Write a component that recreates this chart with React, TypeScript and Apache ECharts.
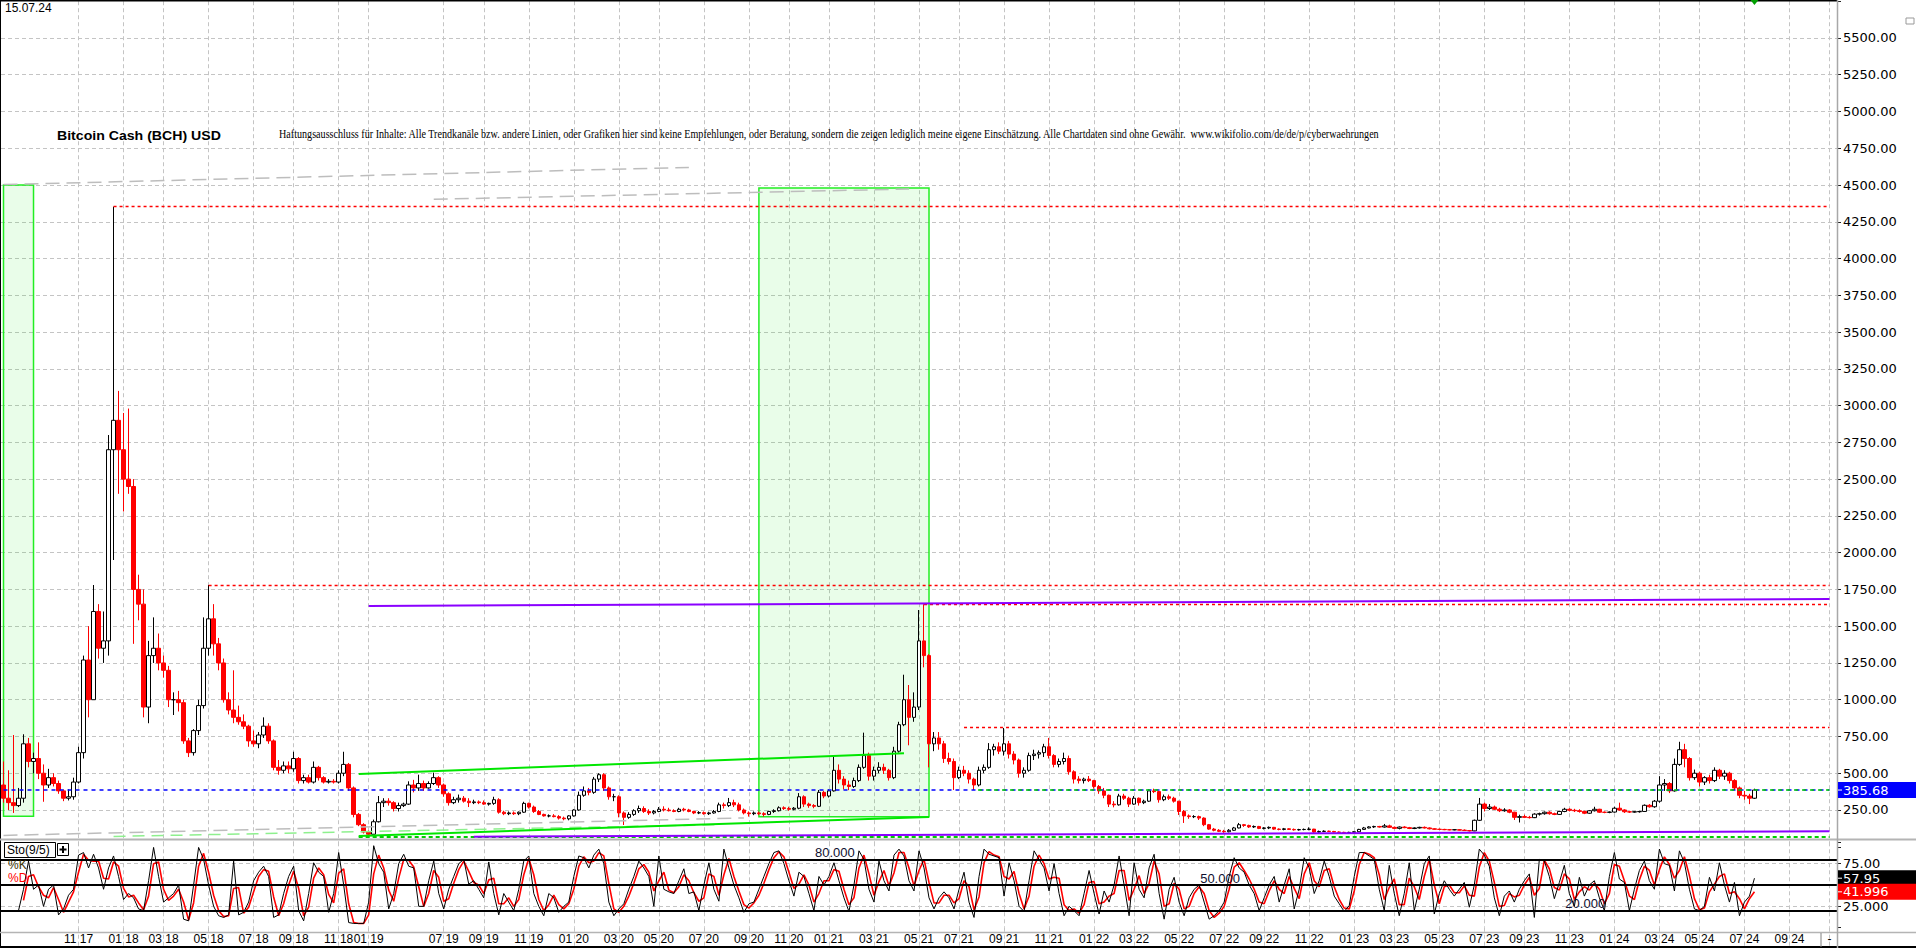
import React, { useEffect, useRef } from 'react';
import * as echarts from 'echarts';

const SLOT_COUNT = 367;

// x-axis labels (MM YY) and the weekly slot each sits on
const tickSlots = [15, 24, 32, 41, 50, 58, 67, 73, 88, 96, 105, 114, 123, 131, 140, 149, 157, 165, 174, 183, 191, 200, 209, 218, 226, 235, 244, 252, 261, 270, 278, 287, 296, 304, 313, 322, 331, 339, 348, 357, 365];
const tickLabels = ['11 17', '01 18', '03 18', '05 18', '07 18', '09 18', '11 18', '01 19', '07 19', '09 19', '11 19', '01 20', '03 20', '05 20', '07 20', '09 20', '11 20', '01 21', '03 21', '05 21', '07 21', '09 21', '11 21', '01 22', '03 22', '05 22', '07 22', '09 22', '11 22', '01 23', '03 23', '05 23', '07 23', '09 23', '11 23', '01 24', '03 24', '05 24', '07 24', '09 24', '-'];

// weekly candles [open, high, low, close]
const ohlc2017 = [
  [420, 580, 300, 330], [330, 520, 250, 300], [300, 760, 230, 280], [280, 400, 270, 330], [330, 765, 300, 700],
  [700, 740, 540, 580], [580, 640, 500, 600], [600, 710, 460, 500], [500, 560, 306, 420], [420, 530, 400, 470],
  [470, 500, 410, 430], [430, 450, 360, 380], [380, 390, 310, 330], [330, 390, 315, 340], [340, 470, 320, 440],
  [440, 680, 430, 640], [640, 1300, 600, 1270], [1270, 1500, 880, 1000], [1000, 1780, 1000, 1600], [1600, 1650, 1280, 1350],
  [1350, 1600, 1250, 1400], [1400, 2800, 1300, 2700], [2700, 4353, 1950, 2900], [2900, 3100, 2400, 2700],
];
const ohlc2018 = [
  [2700, 2950, 2280, 2500], [2500, 2980, 2400, 2450], [2450, 2500, 1380, 1750], [1750, 1850, 1540, 1650], [1650, 1750, 880, 950],
  [950, 1400, 840, 1300], [1300, 1560, 1250, 1350], [1350, 1450, 1200, 1250], [1250, 1300, 1150, 1200], [1200, 1230, 950, 1000],
  [1000, 1050, 896, 1000], [1000, 1060, 920, 980], [980, 1000, 700, 720], [720, 740, 610, 640], [640, 800, 620, 790],
  [790, 1000, 760, 960], [960, 1560, 940, 1350], [1350, 1780, 1300, 1550], [1550, 1650, 1300, 1380], [1380, 1420, 1200, 1250],
  [1250, 1280, 980, 1000], [1000, 1050, 900, 930], [930, 1200, 840, 880], [880, 960, 830, 850], [850, 900, 800, 820],
  [820, 830, 680, 720], [720, 790, 680, 700], [700, 780, 670, 760], [760, 880, 740, 820], [820, 840, 700, 720],
  [720, 730, 520, 540], [540, 590, 490, 520], [520, 580, 500, 550], [550, 580, 500, 530], [530, 646, 510, 600],
  [600, 610, 430, 450], [450, 490, 430, 470], [470, 490, 430, 440], [440, 580, 430, 540], [540, 550, 450, 470],
  [470, 480, 430, 440], [440, 460, 430, 445], [445, 460, 430, 440], [440, 520, 430, 500], [500, 646, 480, 560],
  [560, 570, 380, 400], [400, 410, 200, 220], [220, 230, 140, 150], [150, 160, 90, 100],
];
const ohlc2019 = [
  [100, 110, 77, 85], [85, 185, 85, 170], [170, 345, 165, 300], [300, 330, 270, 310], [310, 330, 280, 300],
  [300, 310, 240, 260], [260, 300, 240, 280], [280, 300, 270, 290], [290, 445, 285, 420], [420, 455, 370, 400],
  [400, 490, 380, 430], [430, 450, 380, 400], [400, 445, 395, 430], [430, 504, 420, 470], [470, 480, 400, 420],
  [420, 430, 340, 360], [360, 370, 280, 300], [300, 340, 290, 320], [320, 355, 300, 330], [330, 345, 300, 310],
  [310, 330, 270, 300], [300, 320, 290, 305], [305, 315, 290, 300], [300, 315, 285, 290], [290, 300, 280, 295],
  [295, 340, 285, 320], [320, 330, 225, 235], [235, 245, 215, 225], [225, 240, 215, 230], [230, 240, 216, 225],
  [225, 240, 215, 235], [235, 306, 230, 295], [295, 300, 260, 270], [270, 280, 230, 240], [240, 250, 215, 220],
  [220, 225, 205, 210], [210, 220, 200, 210], [210, 222, 200, 205], [205, 215, 185, 195], [195, 205, 180, 190],
  [190, 215, 180, 210],
];
const ohlc2020 = [
  [210, 255, 205, 250], [250, 375, 245, 350], [350, 410, 340, 380], [380, 400, 350, 370], [370, 475, 360, 460],
  [460, 500, 440, 490], [490, 500, 380, 400], [400, 410, 320, 340], [340, 360, 310, 340], [340, 350, 200, 230],
  [230, 240, 148, 200], [200, 235, 190, 220], [220, 255, 210, 245], [245, 280, 230, 260], [260, 275, 230, 240],
  [240, 255, 216, 230], [230, 250, 220, 240], [240, 270, 235, 255], [255, 275, 240, 250], [250, 265, 240, 245],
  [245, 255, 235, 240], [240, 265, 235, 255], [255, 265, 240, 250], [250, 258, 235, 240], [240, 245, 222, 230],
  [230, 242, 222, 232], [232, 240, 218, 225], [225, 238, 216, 230], [230, 250, 225, 240], [240, 300, 235, 285],
  [285, 300, 260, 280], [280, 332, 270, 300], [300, 320, 270, 285], [285, 300, 240, 250], [250, 260, 220, 230],
  [230, 240, 205, 225], [225, 240, 215, 230], [230, 240, 215, 225], [225, 235, 205, 220], [220, 245, 215, 240],
  [240, 255, 230, 245], [245, 275, 240, 265], [265, 275, 250, 260], [260, 272, 245, 255], [255, 270, 248, 262],
  [262, 365, 255, 340], [340, 350, 270, 290], [290, 300, 265, 280], [280, 290, 262, 275], [275, 386, 270, 370],
  [370, 380, 330, 345],
];
const ohlc2021 = [
  [345, 390, 335, 380], [380, 612, 375, 520], [520, 560, 430, 460], [460, 480, 390, 420], [420, 450, 385, 410],
  [410, 470, 400, 450], [450, 560, 440, 540], [540, 776, 530, 620], [620, 640, 450, 480], [480, 545, 450, 520],
  [520, 575, 500, 540], [540, 565, 495, 520], [520, 530, 450, 470], [470, 680, 460, 650], [650, 850, 640, 830],
  [830, 1170, 820, 1000], [1000, 1100, 690, 880], [880, 1050, 850, 950], [950, 1610, 930, 1400], [1400, 1650, 1220, 1300],
  [1300, 1310, 540, 700], [700, 780, 650, 740], [740, 780, 660, 700], [700, 720, 570, 600], [600, 640, 560, 580],
  [580, 600, 386, 470], [470, 545, 460, 520], [520, 550, 480, 500], [500, 520, 430, 460], [460, 470, 386, 420],
  [420, 545, 410, 520], [520, 560, 500, 540], [540, 705, 530, 660], [660, 700, 620, 680], [680, 710, 630, 650],
  [650, 808, 620, 700], [700, 720, 600, 630], [630, 650, 560, 590], [590, 600, 470, 500], [500, 540, 470, 520],
  [520, 640, 510, 620], [620, 660, 590, 630], [630, 655, 600, 640], [640, 700, 610, 680], [680, 740, 600, 620],
  [620, 630, 540, 560], [560, 600, 540, 580], [580, 640, 560, 600], [600, 620, 490, 510], [510, 520, 430, 460],
  [460, 480, 430, 450], [450, 470, 430, 460], [460, 481, 440, 450],
];
const ohlc2022 = [
  [450, 455, 395, 410], [410, 420, 360, 380], [380, 400, 330, 350], [350, 355, 270, 290], [290, 310, 268, 285],
  [285, 360, 280, 345], [345, 360, 318, 330], [330, 340, 270, 290], [290, 345, 285, 330], [330, 335, 280, 300],
  [300, 320, 290, 310], [310, 390, 305, 380], [380, 395, 365, 375], [375, 380, 300, 320], [320, 355, 310, 340],
  [340, 355, 318, 330], [330, 340, 300, 310], [310, 312, 216, 240], [240, 250, 162, 210], [210, 220, 190, 205],
  [205, 215, 195, 205], [205, 212, 182, 195], [195, 200, 140, 150], [150, 155, 115, 120], [120, 128, 105, 112],
  [112, 120, 100, 105], [105, 115, 95, 102], [102, 120, 98, 112], [112, 135, 108, 128], [128, 162, 125, 150],
  [150, 155, 135, 145], [145, 150, 128, 135], [135, 145, 128, 138], [138, 142, 120, 125], [125, 133, 118, 128],
  [128, 138, 120, 132], [132, 135, 115, 120], [120, 125, 112, 118], [118, 128, 112, 122], [122, 126, 114, 118],
  [118, 124, 110, 115], [115, 122, 110, 117], [117, 124, 112, 118], [118, 132, 112, 120], [120, 122, 94, 100],
  [100, 110, 95, 104], [104, 112, 100, 106], [106, 110, 100, 104], [104, 108, 97, 100], [100, 104, 95, 98],
  [98, 102, 95, 97], [97, 102, 94, 98],
];
const ohlc2023 = [
  [98, 106, 95, 102], [102, 122, 100, 118], [118, 135, 115, 128], [128, 140, 125, 135], [135, 143, 128, 138],
  [138, 142, 130, 134], [134, 155, 130, 142], [142, 150, 128, 132], [132, 138, 120, 125], [125, 138, 118, 134],
  [134, 140, 126, 130], [130, 135, 120, 124], [124, 132, 120, 128], [128, 136, 124, 132], [132, 138, 124, 128],
  [128, 132, 118, 122], [122, 126, 116, 119], [119, 124, 115, 118], [118, 122, 113, 116], [116, 120, 112, 115],
  [115, 120, 112, 116], [116, 120, 111, 113], [113, 118, 108, 110], [110, 114, 104, 108], [108, 185, 106, 180],
  [180, 332, 175, 290], [290, 300, 240, 260], [260, 290, 250, 270], [270, 280, 250, 255], [255, 265, 236, 245],
  [245, 262, 238, 250], [250, 256, 228, 235], [235, 238, 182, 200], [200, 218, 165, 205], [205, 218, 195, 200],
  [200, 210, 192, 198], [198, 228, 195, 222], [222, 232, 212, 225], [225, 240, 218, 235], [235, 242, 218, 225],
  [225, 232, 215, 220], [220, 245, 216, 240], [240, 265, 235, 255], [255, 262, 240, 248], [248, 258, 236, 245],
  [245, 255, 232, 240], [240, 245, 222, 228], [228, 250, 224, 245], [245, 272, 240, 255], [255, 258, 230, 235],
  [235, 240, 228, 234], [234, 240, 228, 236],
];
const ohlc2024 = [
  [236, 272, 232, 262], [262, 300, 245, 250], [250, 255, 230, 238], [238, 245, 230, 236], [236, 242, 232, 238],
  [238, 244, 232, 240], [240, 288, 238, 282], [282, 290, 266, 272], [272, 318, 265, 310], [310, 480, 300, 420],
  [420, 460, 380, 430], [430, 440, 365, 380], [380, 600, 375, 560], [560, 714, 550, 660], [660, 700, 540, 600],
  [600, 610, 450, 470], [470, 525, 455, 500], [500, 510, 410, 440], [440, 480, 420, 470], [470, 490, 430, 450],
  [450, 540, 440, 520], [520, 530, 460, 480], [480, 520, 455, 500], [500, 510, 430, 450], [450, 460, 385, 400],
  [400, 410, 330, 350], [350, 380, 320, 345], [345, 360, 290, 330], [330, 395, 325, 385.68],
];

// Stochastic (9/5): %K and %D per weekly slot
const k2017 = [null, null, null, 20, 45, 78, 45, 50, 25, 45, 50, 15, 22, 38, 45, 85, 88, 70, 86, 70, 45, 70, 84, 60];
const k2018 = [33, 40, 35, 22, 20, 55, 94, 60, 30, 35, 40, 50, 10, 8, 50, 94, 80, 50, 25, 14, 12, 15, 78, 15, 18, 30, 55, 65, 72, 60, 12, 15, 40, 60, 72, 20, 8, 40, 76, 65, 60, 18, 40, 88, 50, 6, 5, 5, 5];
const k2019 = [30, 96, 75, 65, 22, 40, 75, 86, 72, 70, 25, 25, 55, 78, 40, 22, 45, 60, 75, 80, 51, 55, 45, 35, 77, 40, 15, 40, 30, 20, 45, 78, 84, 40, 25, 14, 40, 35, 18, 25, 30];
const k2020 = [60, 84, 82, 70, 85, 92, 75, 30, 14, 22, 28, 45, 60, 78, 70, 60, 25, 84, 45, 42, 40, 55, 69, 40, 42, 20, 50, 76, 45, 31, 92, 70, 50, 35, 18, 28, 30, 45, 60, 75, 88, 90, 75, 55, 37, 65, 60, 40, 20, 60, 50];
const k2021 = [60, 76, 55, 35, 19, 50, 90, 80, 45, 30, 78, 55, 43, 85, 92, 84, 55, 43, 90, 70, 35, 22, 35, 42, 35, 22, 45, 65, 30, 12, 60, 92, 86, 84, 82, 37, 76, 55, 25, 19, 55, 90, 80, 70, 43, 75, 40, 14, 25, 20, 14, 40, 67];
const k2022 = [40, 16, 43, 30, 50, 84, 50, 14, 76, 45, 35, 70, 86, 40, 10, 45, 59, 30, 14, 35, 45, 50, 30, 10, 14, 20, 30, 60, 82, 70, 65, 50, 40, 20, 35, 50, 60, 30, 50, 69, 22, 45, 82, 70, 40, 55, 78, 60, 37, 28, 19, 26];
const k2023 = [60, 88, 88, 84, 80, 45, 20, 73, 40, 14, 40, 76, 20, 45, 75, 84, 16, 40, 55, 45, 37, 45, 53, 24, 50, 92, 85, 72, 35, 14, 37, 43, 30, 45, 55, 63, 12, 80, 78, 60, 34, 53, 73, 40, 25, 59, 37, 50, 55, 35, 20, 60];
const k2024 = [88, 57, 53, 20, 45, 67, 78, 55, 45, 92, 75, 73, 43, 90, 76, 45, 22, 20, 25, 59, 43, 76, 50, 30, 53, 14, 30, 37, 57.95];
const d2017 = [null, null, null, null, 32, 60, 62, 48, 38, 35, 47, 33, 18, 30, 42, 65, 86, 79, 78, 78, 58, 57, 77, 72];
const d2018 = [46, 36, 38, 29, 21, 37, 75, 77, 45, 32, 37, 45, 30, 9, 29, 72, 87, 65, 38, 20, 13, 14, 46, 47, 17, 24, 42, 60, 68, 66, 36, 14, 28, 50, 66, 46, 14, 24, 58, 70, 62, 39, 29, 64, 69, 28, 6, 5, 5];
const d2019 = [15, 63, 85, 70, 44, 31, 58, 80, 79, 71, 48, 25, 40, 67, 59, 31, 34, 52, 68, 78, 66, 53, 50, 40, 56, 58, 28, 28, 35, 25, 33, 62, 81, 62, 33, 20, 27, 38, 27, 22, 28];
const d2020 = [45, 72, 83, 76, 78, 88, 84, 52, 22, 18, 25, 37, 52, 69, 74, 65, 43, 55, 65, 44, 41, 48, 62, 55, 41, 31, 35, 63, 60, 38, 62, 81, 60, 43, 27, 23, 29, 38, 52, 68, 82, 89, 83, 65, 46, 51, 62, 50, 30, 40, 55];
const d2021 = [55, 68, 66, 45, 27, 35, 70, 85, 63, 38, 54, 67, 49, 64, 88, 88, 70, 49, 67, 80, 53, 29, 29, 38, 38, 29, 34, 55, 48, 21, 36, 76, 89, 85, 83, 60, 57, 66, 40, 22, 37, 72, 85, 75, 57, 59, 58, 27, 20, 22, 17, 27, 53];
const d2022 = [54, 28, 30, 37, 40, 67, 67, 32, 45, 61, 40, 52, 78, 63, 25, 28, 52, 45, 22, 25, 40, 48, 40, 20, 12, 17, 25, 45, 71, 76, 67, 57, 45, 30, 28, 43, 55, 45, 40, 60, 46, 34, 63, 76, 55, 48, 67, 69, 48, 33, 23, 22];
const d2023 = [43, 74, 88, 86, 82, 62, 33, 47, 57, 27, 27, 58, 48, 33, 60, 80, 50, 28, 48, 50, 41, 41, 49, 38, 37, 71, 88, 78, 53, 25, 26, 40, 36, 38, 50, 59, 38, 46, 79, 69, 47, 44, 63, 57, 33, 42, 48, 44, 52, 45, 28, 40];
const d2024 = [74, 72, 55, 37, 33, 56, 72, 67, 50, 68, 83, 74, 58, 67, 83, 61, 34, 21, 23, 42, 51, 60, 63, 40, 42, 34, 22, 34, 41.996];

// drawn levels and trend lines, in data space
const redLevels = [[22, 365, 4353], [41, 365, 1780], [184, 365, 1651], [192, 365, 812]]; // [fromSlot, toSlot, value]
const blueLevel = [0, 365, 385.68];
const greenLevel = [194, 365, 385.68];
const greenFloor = [71, 365, 71];
const greenChannel = [[71, 495, 180, 636], [71, 73, 185, 202]]; // [fromSlot, fromValue, toSlot, toValue]
const purpleTrends = [[73, 1637, 365, 1685], [94, 68, 365, 105]];
const greyTrends = [[0, 4503, 137, 4620], [86, 4403, 181, 4473], [0, 77, 148, 196]];
const paleGreenTrends = [[22, 70, 143, 150]];
const zones = [[0, 6, 207, 4500], [151, 185, 204, 4480]]; // [fromSlot, toSlot, low, high]
const stochLevels = [80, 50, 20];
const stochLevelText = [[80, 163, '80.000'], [50, 240, '50.000'], [20, 313, '20.000']]; // [level, slot, text]

const DISCLAIMER = 'Haftungsausschluss für Inhalte: Alle Trendkanäle bzw. andere Linien, oder Grafiken hier sind keine Empfehlungen, oder Beratung, sondern die zeigen lediglich meine eigene Einschätzung. Alle Chartdaten sind ohne Gewähr.  www.wikifolio.com/de/de/p/cyberwaehrungen';
const TITLE = 'Bitcoin Cash (BCH) USD';
const DATE_TEXT = '15.07.24';

function measure(text: string, font: string) {
  const ctx = document.createElement('canvas').getContext('2d');
  if (!ctx) return 0;
  ctx.font = font;
  return ctx.measureText(text).width;
}

export default function App() {
  const ref = useRef<HTMLDivElement>(null);
  useEffect(() => {
    const el = ref.current;
    if (!el) return;
    const chart = echarts.init(el, null, { renderer: 'svg' });
    const ohlc = [...ohlc2017, ...ohlc2018, ...ohlc2019, ...ohlc2020, ...ohlc2021, ...ohlc2022, ...ohlc2023, ...ohlc2024];
    const kVals = [...k2017, ...k2018, ...k2019, ...k2020, ...k2021, ...k2022, ...k2023, ...k2024];
    const dVals = [...d2017, ...d2018, ...d2019, ...d2020, ...d2021, ...d2022, ...d2023, ...d2024];
    const cats = Array.from({ length: SLOT_COUNT }, (_, i) => String(i));
    const tickSet = new Set(tickSlots);
    const tickText = new Map(tickSlots.map((s, i) => [s, tickLabels[i]]));
    const isTick = (i: number) => tickSet.has(i);
    const S = (i: number) => String(i);
    const gridDash = { color: '#c4c4c4', type: [4, 3], width: 1 };

    const seg = (a: number, va: number, b: number, vb: number, lineStyle: any) => [
      { coord: [S(a), va], lineStyle },
      { coord: [S(b), vb] },
    ];
    const markLines: any[] = [];
    greyTrends.forEach(([a, va, b, vb]) => markLines.push(seg(a, va, b, vb, { color: '#bdbdbd', width: 1.5, type: [14, 7] })));
    paleGreenTrends.forEach(([a, va, b, vb]) => markLines.push(seg(a, va, b, vb, { color: '#8ef08e', width: 1.5, type: [12, 7] })));
    redLevels.forEach(([a, b, v]) => markLines.push(seg(a, v, b, v, { color: '#ff0000', width: 1.3, type: [3, 3] })));
    markLines.push(seg(blueLevel[0], blueLevel[2], blueLevel[1], blueLevel[2], { color: '#0000ff', width: 1.5, type: [4, 4] }));
    markLines.push(seg(greenLevel[0], greenLevel[2], greenLevel[1], greenLevel[2], { color: '#00d000', width: 1.5, type: [4, 4], dashOffset: 4 }));
    markLines.push(seg(greenFloor[0], greenFloor[2], greenFloor[1], greenFloor[2], { color: '#00cc00', width: 2, type: [4, 3] }));
    greenChannel.forEach(([a, va, b, vb]) => markLines.push(seg(a, va, b, vb, { color: '#00e600', width: 2, type: 'solid' })));
    purpleTrends.forEach(([a, va, b, vb]) => markLines.push(seg(a, va, b, vb, { color: '#8a00ff', width: 2, type: 'solid' })));

    const mainSplitColors = Array.from({ length: 24 }, (_, i) => (i === 0 || i === 23 ? 'rgba(0,0,0,0)' : '#c4c4c4'));

    const option: any = {
      animation: false,
      backgroundColor: '#ffffff',
      grid: [
        { left: 1, top: 1.22, width: 1836, height: 845.54, outerBoundsMode: 'none', containLabel: false },
        { left: 1, top: 842.3, width: 1836, height: 85.4, outerBoundsMode: 'none', containLabel: false },
      ],
      xAxis: [
        {
          type: 'category', gridIndex: 0, data: cats, boundaryGap: true,
          axisLine: { show: false }, axisTick: { show: false }, axisLabel: { show: false },
          splitLine: { show: true, interval: isTick, alignWithLabel: true, lineStyle: gridDash },
        },
        {
          type: 'category', gridIndex: 1, data: cats, boundaryGap: true, position: 'bottom',
          axisLine: { show: false },
          axisTick: { show: true, interval: isTick, alignWithLabel: true, length: 21, lineStyle: gridDash },
          axisLabel: {
            show: true, interval: isTick, margin: 5, color: '#000', fontSize: 12,
            fontFamily: '"Liberation Sans", Arial, sans-serif',
            formatter: (_v: string, i: number) => tickText.get(i) || '',
          },
          splitLine: { show: true, interval: isTick, alignWithLabel: true, lineStyle: gridDash },
        },
      ],
      yAxis: [
        {
          type: 'value', gridIndex: 0, position: 'right', min: 0, max: 5750, interval: 250, scale: false,
          axisLine: { show: false },
          axisTick: { show: true, length: 4, lineStyle: { color: '#222' } },
          axisLabel: {
            margin: 6, color: '#000', fontSize: 13, fontFamily: '"DejaVu Sans", Verdana, sans-serif',
            formatter: (v: number) => (v === 0 || v === 5750 ? '' : v.toFixed(2)),
          },
          splitLine: { show: true, lineStyle: { color: mainSplitColors, type: [4, 3], width: 1 } },
        },
        {
          type: 'value', gridIndex: 1, position: 'right', min: 0, max: 100, interval: 25,
          axisLine: { show: false },
          axisTick: { show: true, length: 4, lineStyle: { color: '#222' } },
          axisLabel: {
            margin: 6, color: '#000', fontSize: 13, fontFamily: '"DejaVu Sans", Verdana, sans-serif',
            formatter: (v: number) => (v === 75 ? '75.00' : v === 25 ? '25.000' : ''),
          },
          splitLine: { show: true, lineStyle: { color: ['rgba(0,0,0,0)', '#c4c4c4', 'rgba(0,0,0,0)', '#c4c4c4', 'rgba(0,0,0,0)'], type: [4, 3], width: 1 } },
        },
      ],
      series: [
        {
          type: 'candlestick', name: 'BCH', xAxisIndex: 0, yAxisIndex: 0, z: 3,
          barWidth: 4,
          data: ohlc.map(([o, h, l, c]) => [o, c, l, h]),
          itemStyle: { color: '#ffffff', color0: '#ff0000', borderColor: '#000000', borderColor0: '#ff0000', borderWidth: 1 },
          markArea: {
            silent: true,
            itemStyle: { color: 'rgba(0,235,0,0.085)', borderColor: '#22ee22', borderWidth: 1.5 },
            label: { show: false },
            data: zones.map(([a, b, lo, hi]) => [{ xAxis: S(a), yAxis: hi }, { xAxis: S(b), yAxis: lo }]),
          },
          markLine: { silent: true, symbol: ['none', 'none'], label: { show: false }, data: markLines },
        },
        {
          type: 'line', name: '%D', xAxisIndex: 1, yAxisIndex: 1, data: dVals, showSymbol: false, z: 3,
          lineStyle: { color: '#ff0000', width: 1.6 },
        },
        {
          type: 'line', name: '%K', xAxisIndex: 1, yAxisIndex: 1, data: kVals, showSymbol: false, z: 4,
          lineStyle: { color: '#000000', width: 1 },
          markLine: {
            silent: true, symbol: ['none', 'none'], label: { show: false },
            lineStyle: { color: '#000', width: 2, type: 'solid' },
            data: stochLevels.map((v) => ({ yAxis: v })),
          },
        },
      ],
    };
    chart.setOption(option);

    // overlay texts and tags, positioned through the chart's scales
    const lastClose = ohlc[ohlc.length - 1][3];
    const lastK = kVals[kVals.length - 1] as number;
    const lastD = dVals[dVals.length - 1] as number;
    const py = (v: number) => chart.convertToPixel({ yAxisIndex: 0 }, v) as number;
    const sy = (v: number) => chart.convertToPixel({ yAxisIndex: 1 }, v) as number;
    const sx = (slot: number) => chart.convertToPixel({ xAxisIndex: 1 }, S(slot)) as number;
    const lastX = chart.convertToPixel({ xAxisIndex: 0 }, S(ohlc.length - 1)) as number;

    const discFont = '13px "Liberation Serif", "Times New Roman", serif';
    const discW = measure(DISCLAIMER, discFont) || 1100;
    const titleFont = 'bold 13px "Liberation Sans", Arial, sans-serif';
    const titleW = measure(TITLE, titleFont) || 164;
    const tagFont = '13px "DejaVu Sans", Verdana, sans-serif';
    const txt = (x: number, y: number, text: string, font: string, fill: string, extra: any = {}) => ({
      type: 'text', x, y, silent: true, z: 20, ...extra,
      style: { text, font, fill, align: 'left', verticalAlign: 'middle', textAlign: 'left', textVerticalAlign: 'middle' },
    });
    const line = (x1: number, y1: number, x2: number, y2: number, stroke: string, lineWidth: number, z = 15) => ({
      type: 'line', silent: true, z, shape: { x1, y1, x2, y2 }, style: { stroke, lineWidth },
    });
    const tag = (y: number, text: string, fill: string) => ({
      type: 'group', silent: true, z: 30,
      children: [
        { type: 'rect', z: 30, shape: { x: 1838, y: y - 8, width: 78, height: 16 }, style: { fill } },
        line(1838, y, 1842, y, '#ffffff', 1, 31),
        { type: 'text', z: 31, x: 1843, y, style: { text, font: tagFont, fill: '#ffffff', align: 'left', verticalAlign: 'middle', textAlign: 'left', textVerticalAlign: 'middle' } },
      ],
    });

    const graphics: any[] = [
      line(0, 0.75, 1837, 0.75, '#000000', 1.5),
      line(0.5, 0, 0.5, 948, '#000000', 1),
      line(0, 839.5, 1916, 839.5, '#b4b4b4', 2),
      line(0, 932.5, 1916, 932.5, '#b4b4b4', 1.5),
      line(0, 947, 1916, 947, '#000000', 2),
      line(1837.5, 0, 1837.5, 948, '#a8a8a8', 1.5),
      line(1821, 933, 1821, 947, '#808080', 1),
      { type: 'rect', silent: true, z: 15, shape: { x: 1906, y: 18, width: 8, height: 6 }, style: { fill: 'none', stroke: '#999', lineWidth: 1 } },
      { type: 'polygon', silent: true, z: 15, shape: { points: [[lastX - 4, 0], [lastX + 4, 0], [lastX, 5]] }, style: { fill: '#00a000' } },
      txt(5, 8, DATE_TEXT, '12px "Liberation Sans", Arial, sans-serif', '#000'),
      txt(57, 136, TITLE, titleFont, '#000', { scaleX: 164 / titleW }),
      txt(279, 134, DISCLAIMER, discFont, '#000', { scaleX: 1102 / discW }),
      { type: 'rect', silent: true, z: 20, shape: { x: 4.5, y: 842.5, width: 51, height: 15 }, style: { fill: '#fff', stroke: '#000', lineWidth: 1 } },
      txt(7, 850, 'Sto(9/5)', '12px "Liberation Sans", Arial, sans-serif', '#000'),
      { type: 'rect', silent: true, z: 20, shape: { x: 57.5, y: 843.5, width: 11, height: 12 }, style: { fill: '#fff', stroke: '#000', lineWidth: 1 } },
      line(59.5, 849.5, 66.5, 849.5, '#000', 2, 21),
      line(63, 846, 63, 853, '#000', 2, 21),
      txt(8, 865, '%K', '12px "Liberation Sans", Arial, sans-serif', '#3c3300'),
      txt(8, 878, '%D', '12px "Liberation Sans", Arial, sans-serif', '#ff0000'),
      ...stochLevelText.map(([lv, slot, t]) => txt(sx(slot as number) - 4, sy(lv as number) - 7, t as string, '13px "Liberation Sans", Arial, sans-serif', '#101030')),
      tag(py(lastClose), lastClose.toFixed(2), '#0000ff'),
      tag(sy(lastK), lastK.toFixed(2), '#000000'),
      tag(sy(lastD), lastD.toFixed(3), '#ff0000'),
    ];
    chart.setOption({ graphic: { elements: graphics } });

    return () => chart.dispose();
  }, []);
  return <div ref={ref} style={{ position: 'fixed', left: 0, top: 0, width: 1916, height: 948, background: '#fff' }} />;
}
